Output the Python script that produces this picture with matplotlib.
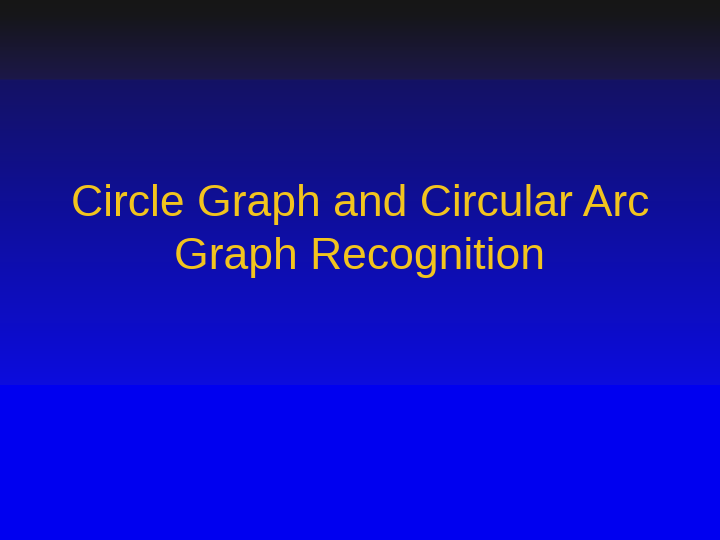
import numpy as np
import matplotlib
matplotlib.use("Agg")
import matplotlib.pyplot as plt

# slide content
title_lines = ["Circle Graph and Circular Arc", "Graph Recognition"]
title_color = "#F2C41E"

# background gradient stops: (pixel row, rgb)
stop_rows = [0, 15, 78, 80, 200, 384, 385, 540]
stop_colors = [(22, 22, 22), (22, 22, 26), (28, 24, 72), (20, 18, 100),
               (15, 15, 150), (12, 12, 222), (0, 0, 240), (0, 0, 240)]

fig = plt.figure(figsize=(7.2, 5.4), dpi=100)
ax = fig.add_axes([0, 0, 1, 1])
ax.set_xlim(0, 720)
ax.set_ylim(540, 0)
ax.axis("off")

rows = np.arange(540)
cols = np.array(stop_colors, dtype=float) / 255.0
grad = np.stack([np.interp(rows, stop_rows, cols[:, k]) for k in range(3)], axis=-1)
img = np.repeat(grad[:, None, :], 2, axis=1)
ax.imshow(img, extent=[0, 720, 540, 0], aspect="auto", interpolation="nearest")

for i, line in enumerate(title_lines):
    ax.text(360, 216 + i * 53, line, ha="center", va="baseline",
            fontsize=32, color=title_color, family="Liberation Sans")

fig.savefig("out.png", dpi=100)
